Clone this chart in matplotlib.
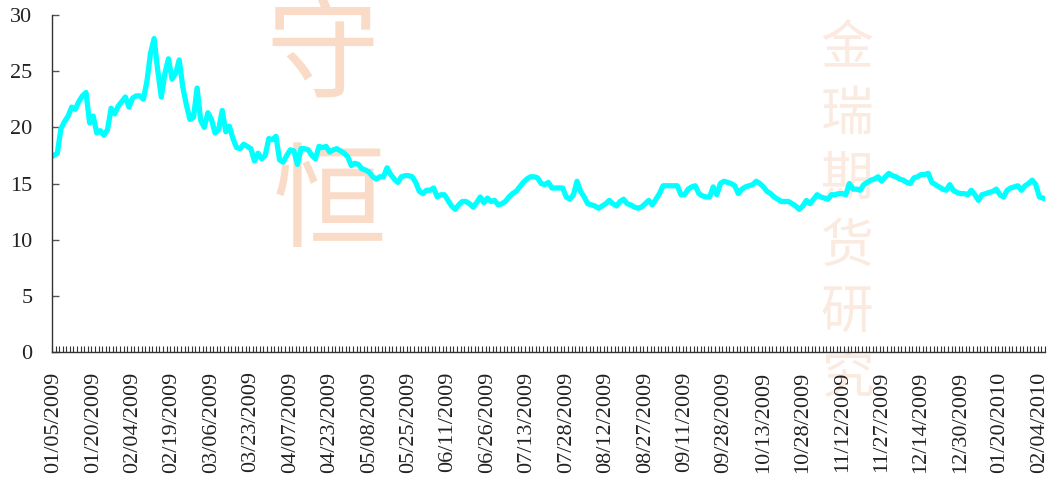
import numpy as np
import matplotlib
matplotlib.use("Agg")
import matplotlib.pyplot as plt

# daily values, 01/05/2009 .. early 02/2010
values = [
    17.5, 17.7, 19.9, 20.5, 21.0, 21.8, 21.6, 22.3, 22.8, 23.1,
    20.4, 21.0, 19.5, 19.7, 19.3, 19.8, 21.7, 21.2, 21.9, 22.3,
    22.7, 21.8, 22.6, 22.8, 22.8, 22.5, 24.1, 26.6, 27.9, 25.1,
    22.7, 24.8, 26.1, 24.3, 24.8, 26.0, 23.6, 22.0, 20.7, 20.9,
    23.5, 20.6, 20.0, 21.3, 20.7, 19.5, 19.8, 21.5, 19.6, 20.1,
    19.0, 18.2, 18.1, 18.5, 18.3, 18.1, 17.0, 17.7, 17.2, 17.5,
    19.0, 18.9, 19.2, 17.1, 16.9, 17.5, 18.0, 17.9, 16.7, 18.1,
    18.1, 18.0, 17.5, 17.2, 18.3, 18.2, 18.3, 17.8, 18.0, 18.1,
    17.9, 17.7, 17.4, 16.6, 16.8, 16.7, 16.3, 16.2, 16.0, 15.6,
    15.4, 15.6, 15.6, 16.4, 15.8, 15.4, 15.1, 15.6, 15.7, 15.7,
    15.6, 15.1, 14.3, 14.1, 14.4, 14.4, 14.6, 13.8, 14.0, 14.0,
    13.5, 13.0, 12.7, 13.1, 13.4, 13.4, 13.2, 12.9, 13.3, 13.8,
    13.3, 13.7, 13.4, 13.5, 13.1, 13.2, 13.4, 13.8, 14.1, 14.3,
    14.7, 15.1, 15.4, 15.6, 15.6, 15.5, 15.0, 14.9, 15.1, 14.6,
    14.6, 14.6, 14.6, 13.8, 13.6, 14.0, 15.2, 14.3, 13.8, 13.2,
    13.1, 13.0, 12.8, 13.0, 13.2, 13.5, 13.2, 13.0, 13.4, 13.6,
    13.2, 13.1, 12.9, 12.8, 12.9, 13.2, 13.5, 13.1, 13.6, 14.1,
    14.8, 14.8, 14.8, 14.8, 14.8, 14.0, 14.0, 14.5, 14.7, 14.8,
    14.1, 13.9, 13.8, 13.8, 14.7, 14.0, 15.0, 15.2, 15.1, 15.0,
    14.8, 14.1, 14.5, 14.7, 14.8, 14.9, 15.2, 15.0, 14.7, 14.3,
    14.1, 13.8, 13.6, 13.4, 13.4, 13.4, 13.2, 13.0, 12.7, 13.0,
    13.5, 13.2, 13.6, 14.0, 13.8, 13.7, 13.6, 14.0, 14.0, 14.1,
    14.1, 14.0, 15.0, 14.5, 14.5, 14.4, 14.9, 15.1, 15.3, 15.4,
    15.6, 15.2, 15.6, 15.9, 15.7, 15.6, 15.4, 15.3, 15.1, 15.0,
    15.5, 15.6, 15.8, 15.8, 15.9, 15.1, 14.9, 14.7, 14.5, 14.4,
    14.9, 14.4, 14.2, 14.1, 14.1, 14.0, 14.4, 14.0, 13.5, 14.0,
    14.1, 14.2, 14.3, 14.5, 14.0, 13.8, 14.4, 14.6, 14.7, 14.8,
    14.4, 14.8, 15.0, 15.3, 14.9, 13.8, 13.7,
]

date_labels = [
    "01/05/2009", "01/20/2009", "02/04/2009", "02/19/2009", "03/06/2009",
    "03/23/2009", "04/07/2009", "04/23/2009", "05/08/2009", "05/25/2009",
    "06/11/2009", "06/26/2009", "07/13/2009", "07/28/2009", "08/12/2009",
    "08/27/2009", "09/11/2009", "09/28/2009", "10/13/2009", "10/28/2009",
    "11/12/2009", "11/27/2009", "12/14/2009", "12/30/2009", "01/20/2010",
    "02/04/2010",
]
label_step = 11

yticks = [0, 5, 10, 15, 20, 25, 30]

plt.rcParams['font.family'] = ['Liberation Serif', 'DejaVu Serif']

fig = plt.figure(figsize=(10.5, 4.91), dpi=100)
ax = fig.add_axes([0.0495, 0.283, 0.9455, 0.6865])

n = len(values)
x = np.arange(n)

# watermark (behind the line)
wm = dict(family=['Noto Sans CJK SC'], ha='center', va='center',
          transform=fig.transFigure, clip_on=False, zorder=0.5)
ax.text(322 / 1050, 1 - 55 / 491, "守", fontsize=82, color='#f7cdb0', alpha=0.7, **wm)
ax.text(330 / 1050, 1 - 205 / 491, "恒", fontsize=82, color='#f7cdb0', alpha=0.7, **wm)
for k, ch in enumerate("金瑞期货研究"):
    ax.text(847 / 1050, 1 - (48 + k * 66) / 491, ch, fontsize=38,
            color='#f9dccb', alpha=0.6, **wm)

ax.plot(x, values, color='#00ffff', lw=3.8, solid_joinstyle='round', zorder=2)

ax.set_xlim(-0.5, n - 0.5)
ax.set_ylim(0, 30)
ax.set_yticks(yticks)
ax.set_yticklabels([str(t) for t in yticks])

ax.set_xticks(np.arange(0, n, label_step)[:len(date_labels)])
ax.set_xticklabels(date_labels, rotation=90)
ax.set_xticks(np.arange(n + 1) - 0.5, minor=True)

for s in ['top', 'right']:
    ax.spines[s].set_visible(False)
for s in ['left', 'bottom']:
    ax.spines[s].set_color('#333333')
    ax.spines[s].set_linewidth(1.0)

ax.tick_params(axis='y', direction='in', length=5, width=1, color='#555555',
               labelsize=16, pad=14, labelcolor='#222222')
ax.tick_params(axis='x', which='major', length=0, labelsize=16, pad=14,
               labelcolor='#222222')
ax.tick_params(axis='x', which='minor', direction='in', length=4, width=0.8,
               color='#333333')

fig.savefig("out.png", dpi=100)
